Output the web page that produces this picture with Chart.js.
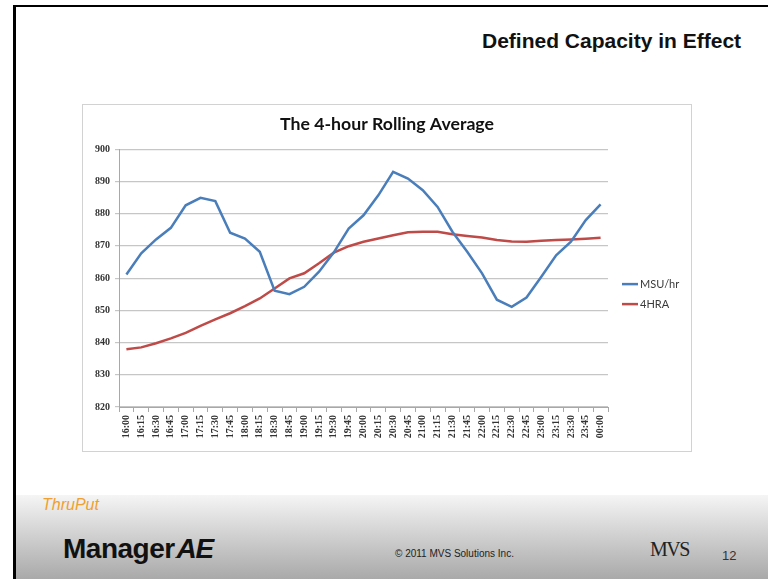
<!DOCTYPE html>
<html>
<head>
<meta charset="utf-8">
<script src="https://cdn.jsdelivr.net/npm/chart.js@4/dist/chart.umd.min.js"></script>
<style>
  html, body { margin: 0; padding: 0; background: #fff; }
  body { width: 768px; height: 579px; position: relative; overflow: hidden; font-family: "Liberation Sans", Arial, sans-serif; }
  .rule-top { position: absolute; left: 13px; top: 5px; right: 0; height: 2px; background: #000; }
  .rule-left { position: absolute; left: 13px; top: 5px; width: 3px; bottom: 0; background: #000; }
  .slide-title { position: absolute; left: 482px; top: 30px; font-weight: bold; font-size: 21px; line-height: 21px; color: #111; white-space: nowrap; }
  #box { position: absolute; left: 82px; top: 104px; width: 610px; height: 348px; box-sizing: border-box; border: 1px solid #d2d2d2; background: #fff; }
  #box canvas { display: block; }
  .footer { position: absolute; left: 16px; right: 0; top: 495px; bottom: 0; background: linear-gradient(#f5f5f5, #a9a9a9); }
  .brand-top { position: absolute; left: 42px; top: 497px; font-style: italic; font-size: 16px; line-height: 16px; color: #f0a030; white-space: nowrap; }
  .brand-main { position: absolute; left: 63px; top: 535px; font-weight: bold; font-size: 28px; line-height: 28px; color: #111; white-space: nowrap; letter-spacing: -0.5px; }
  .brand-main .ae { font-style: italic; letter-spacing: -1px; }
  .brand-main .dot { font-size: 8px; }
  .copyright { position: absolute; left: 395px; top: 549px; font-size: 10px; line-height: 10px; color: #222; white-space: nowrap; }
  .mvs { position: absolute; left: 650px; top: 539px; font-family: "Liberation Serif", serif; font-size: 20px; line-height: 20px; letter-spacing: -1.5px; color: #222; white-space: nowrap; }
  .page-no { position: absolute; left: 722px; top: 549px; font-size: 13px; line-height: 13px; color: #333; }
</style>
</head>
<body>
<div class="rule-top"></div>
<div class="rule-left"></div>
<div class="slide-title">Defined Capacity in Effect</div>

<div id="box"><canvas id="c" width="608" height="346"></canvas></div>

<div class="footer"></div>
<div class="brand-top">ThruPut</div>
<div class="brand-main">Manager<span class="dot">.</span><span class="ae">AE</span></div>
<div class="copyright">© 2011 MVS Solutions Inc.</div>
<div class="mvs">MVS</div>
<div class="page-no">12</div>

<script>
// Quarter-hour sample times, 16:00 through midnight
const timeLabels = [
  '16:00','16:15','16:30','16:45','17:00','17:15','17:30','17:45',
  '18:00','18:15','18:30','18:45','19:00','19:15','19:30','19:45',
  '20:00','20:15','20:30','20:45','21:00','21:15','21:30','21:45',
  '22:00','22:15','22:30','22:45','23:00','23:15','23:30','23:45','00:00'
];

// Instantaneous MSU consumption per hour
const msuPerHour = [
  861.1, 867.7, 872.0, 875.6, 882.6, 884.9, 883.9, 874.1,
  872.3, 868.2, 856.1, 855.0, 857.3, 862.0, 868.0, 875.4,
  879.5, 885.7, 893.0, 890.9, 887.3, 882.1, 874.4, 868.2,
  861.5, 853.3, 851.1, 854.0, 860.4, 867.1, 871.3, 878.0, 882.9
];

// Four-hour rolling average (4HRA)
const rollingAvg4h = [
  837.9, 838.5, 839.8, 841.3, 843.0, 845.2, 847.2, 849.1,
  851.3, 853.7, 856.8, 859.9, 861.5, 864.6, 867.9, 869.9,
  871.3, 872.3, 873.3, 874.2, 874.4, 874.4, 873.6, 873.1,
  872.6, 871.8, 871.4, 871.3, 871.6, 871.8, 872.0, 872.2, 872.5
];

const yTicks = { min: 820, max: 900, step: 10 };

const tickFont = { family: "'Liberation Serif', 'Times New Roman', serif", weight: 'bold', size: 10 };

// Line-sample legend drawn in the space right of the plot
const seriesKey = {
  id: 'seriesKey',
  afterDraw(chart) {
    const { ctx, chartArea } = chart;
    const x0 = chartArea.right + 14;
    const mid = (chartArea.top + chartArea.bottom) / 2;
    ctx.save();
    ctx.font = "11px Lato, 'Open Sans', sans-serif";
    ctx.textBaseline = 'middle';
    chart.data.datasets.forEach((ds, i) => {
      const y = mid + 6 + i * 20;
      ctx.strokeStyle = ds.borderColor;
      ctx.lineWidth = 2.5;
      ctx.beginPath();
      ctx.moveTo(x0, y);
      ctx.lineTo(x0 + 16, y);
      ctx.stroke();
      ctx.fillStyle = '#3a3a3a';
      ctx.fillText(ds.label, x0 + 18, y + 0.5);
    });
    ctx.restore();
  }
};

new Chart(document.getElementById('c'), {
  type: 'line',
  data: {
    labels: timeLabels,
    datasets: [
      { label: 'MSU/hr', data: msuPerHour, borderColor: '#4a7ebb', borderWidth: 2.5, pointRadius: 0, tension: 0, fill: false },
      { label: '4HRA', data: rollingAvg4h, borderColor: '#be4b48', borderWidth: 2.5, pointRadius: 0, tension: 0, fill: false }
    ]
  },
  options: {
    responsive: false,
    animation: false,
    devicePixelRatio: 1,
    layout: { padding: 0 },
    plugins: {
      legend: { display: false },
      tooltip: { enabled: false },
      title: {
        display: true,
        text: 'The 4-hour Rolling Average',
        color: '#111',
        font: { family: "Lato, 'Open Sans', sans-serif", weight: 'bold', size: 17.7, lineHeight: 1.2 },
        padding: { top: 9, bottom: 14 }
      }
    },
    scales: {
      x: {
        type: 'category',
        offset: true,
        grid: { offset: true, drawOnChartArea: false, drawTicks: true, tickLength: 5, color: '#a8a8a8' },
        border: { color: '#a8a8a8', width: 1 },
        ticks: { autoSkip: false, minRotation: 90, maxRotation: 90, padding: 3, font: tickFont, color: '#333' },
        afterFit(scale) { scale.height = 44; }
      },
      y: {
        min: yTicks.min,
        max: yTicks.max,
        ticks: { stepSize: yTicks.step, padding: 5, font: tickFont, color: '#333' },
        grid: { color: '#c6c6c6', tickLength: 4, lineWidth: 1.2 },
        border: { color: '#a8a8a8', width: 1 },
        afterFit(scale) { scale.width = 36; }
      },
      // blank right-hand gutter that holds the legend
      gutter: {
        type: 'linear',
        position: 'right',
        display: true,
        grid: { display: false, drawTicks: false },
        border: { display: false },
        ticks: { display: false },
        afterFit(scale) { scale.width = 83; }
      }
    }
  },
  plugins: [seriesKey]
});
</script>
</body>
</html>
